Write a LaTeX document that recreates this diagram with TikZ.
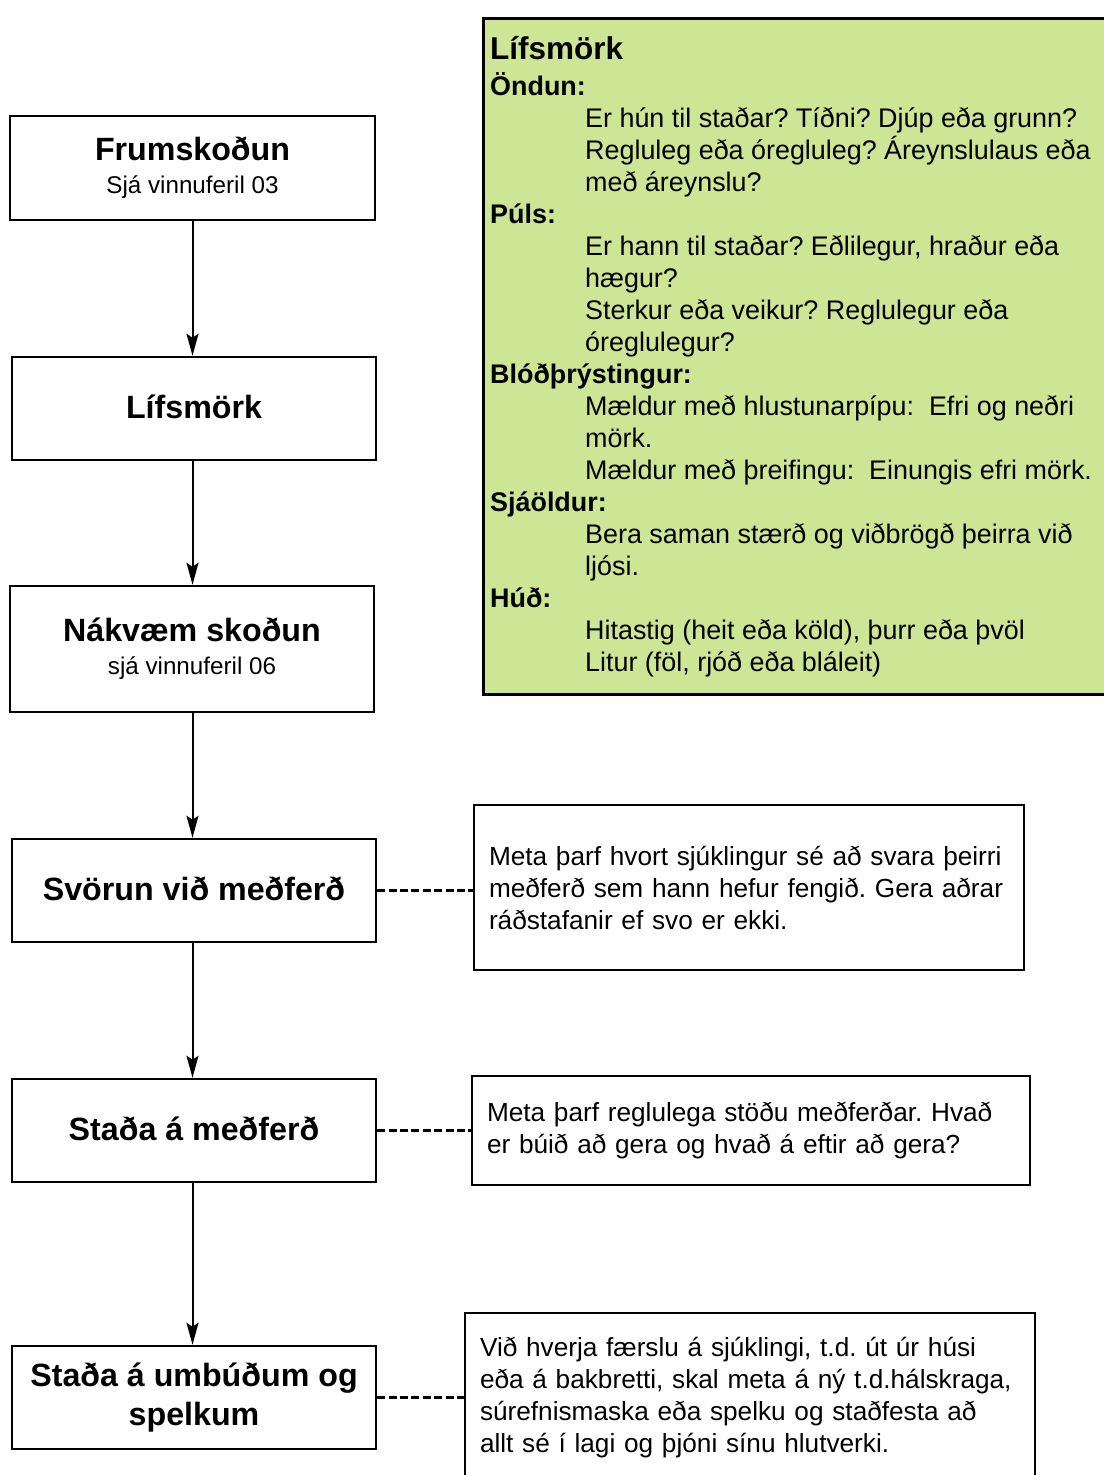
\documentclass[tikz,border=0pt]{standalone}
\usepackage{fontspec}
\setmainfont{Liberation Sans}
\usetikzlibrary{arrows.meta}
\definecolor{vitalgreen}{RGB}{204,230,150}
\frenchspacing
\begin{document}
\begin{tikzpicture}[x=1pt,y=-1pt,
  stepbox/.style={draw,line width=2.5pt,minimum width=364pt,minimum height=103pt,
    inner sep=0pt,align=center,font=\fontsize{32.2}{33}\selectfont\bfseries},
  notebox/.style={draw,line width=2.5pt,inner xsep=15pt,inner ysep=0pt,align=left,
    font=\fontsize{26.2}{32}\selectfont},
  flow/.style={line width=2pt,-{Stealth[length=22pt,width=12pt,inset=4pt]}},
  link/.style={line width=2.5pt,dash pattern=on 8pt off 3.4pt},
  head/.style={anchor=base west,inner sep=0pt,font=\fontsize{26.9}{32}\selectfont\bfseries},
  item/.style={anchor=base west,inner sep=0pt,font=\fontsize{26.9}{32}\selectfont}]
\useasboundingbox (0,0) rectangle (1103,1475);

% vital signs panel
\node[draw,fill=vitalgreen,line width=2.5pt,anchor=north west,inner sep=0pt,
  minimum width=640pt,minimum height=676pt] (panel) at (482,17) {};
\node[anchor=base west,inner sep=0pt,font=\fontsize{31.5}{33}\selectfont\bfseries] (gt) at (490,59) {Lífsmörk};
\node[head] (g0) at (490,95) {Öndun:};
\node[item] (g1) at (585,127) {Er hún til staðar? Tíðni? Djúp eða grunn?};
\node[item] (g2) at (585,159) {Regluleg eða óregluleg? Áreynslulaus eða};
\node[item] (g3) at (585,191) {með áreynslu?};
\node[head] (g4) at (490,223) {Púls:};
\node[item] (g5) at (585,255) {Er hann til staðar? Eðlilegur, hraður eða};
\node[item] (g6) at (585,287) {hægur?};
\node[item] (g7) at (585,319) {Sterkur eða veikur? Reglulegur eða};
\node[item] (g8) at (585,351) {óreglulegur?};
\node[head] (g9) at (490,383) {Blóðþrýstingur:};
\node[item] (g10) at (585,415) {Mældur með hlustunarpípu:~ Efri og neðri};
\node[item] (g11) at (585,447) {mörk.};
\node[item] (g12) at (585,479) {Mældur með þreifingu:~ Einungis efri mörk.};
\node[head] (g13) at (490,511) {Sjáöldur:};
\node[item] (g14) at (585,543) {Bera saman stærð og viðbrögð þeirra við};
\node[item] (g15) at (585,575) {ljósi.};
\node[head] (g16) at (490,607) {Húð:};
\node[item] (g17) at (585,639) {Hitastig (heit eða köld), þurr eða þvöl};
\node[item] (g18) at (585,671) {Litur (föl, rjóð eða bláleit)};

% main flow
\node[stepbox,minimum width=365pt,minimum height=104pt] (f1) at (192.5,168)
  {Frumskoðun\\{\fontsize{24.2}{33}\mdseries Sjá vinnuferil 03}};
\node[stepbox,text depth=4pt] (f2) at (194,408.5) {Lífsmörk};
\node[stepbox,minimum height=126pt] (f3) at (192,649)
  {Nákvæm skoðun\\{\fontsize{24.2}{33}\mdseries sjá vinnuferil 06}};
\node[stepbox,text depth=4pt] (f4) at (194,890.5) {Svörun við meðferð};
\node[stepbox,text depth=4pt] (f5) at (194,1130.5) {Staða á meðferð};
\node[stepbox,font=\fontsize{32.2}{39}\selectfont\bfseries] (f6) at (194,1397.5)
  {Staða á umbúðum og\\spelkum};

\draw[flow] (f1.south) -- (f1.south |- f2.north);
\draw[flow] (f1.south |- f2.south) -- (f1.south |- f3.north);
\draw[flow] (f1.south |- f3.south) -- (f1.south |- f4.north);
\draw[flow] (f1.south |- f4.south) -- (f1.south |- f5.north);
\draw[flow] (f1.south |- f5.south) -- (f1.south |- f6.north);

% notes
\node[notebox,text width=520pt,minimum height=165pt] (n1) at (749,887.5)
  {\mbox{Meta þarf hvort sjúklingur sé að svara þeirri}\\
   \mbox{meðferð sem hann hefur fengið. Gera aðrar}\\
   \mbox{ráðstafanir ef svo er ekki.}};
\node[notebox,text width=528pt,minimum height=109pt] (n2) at (751,1130.5)
  {\mbox{Meta þarf reglulega stöðu meðferðar. Hvað}\\
   \mbox{er búið að gera og hvað á eftir að gera?}};
\node[notebox,text width=540pt,minimum height=170pt] (n3) at (750,1398)
  {\mbox{Við hverja færslu á sjúklingi, t.d. út úr húsi}\\
   \mbox{eða á bakbretti, skal meta á ný t.d.hálskraga,}\\
   \mbox{súrefnismaska eða spelku og staðfesta að}\\
   \mbox{allt sé í lagi og þjóni sínu hlutverki.}};

\draw[link] (f4.east) -- (f4.east -| n1.west);
\draw[link] (f5.east) -- (f5.east -| n2.west);
\draw[link] (f6.east) -- (f6.east -| n3.west);
\end{tikzpicture}
\end{document}
